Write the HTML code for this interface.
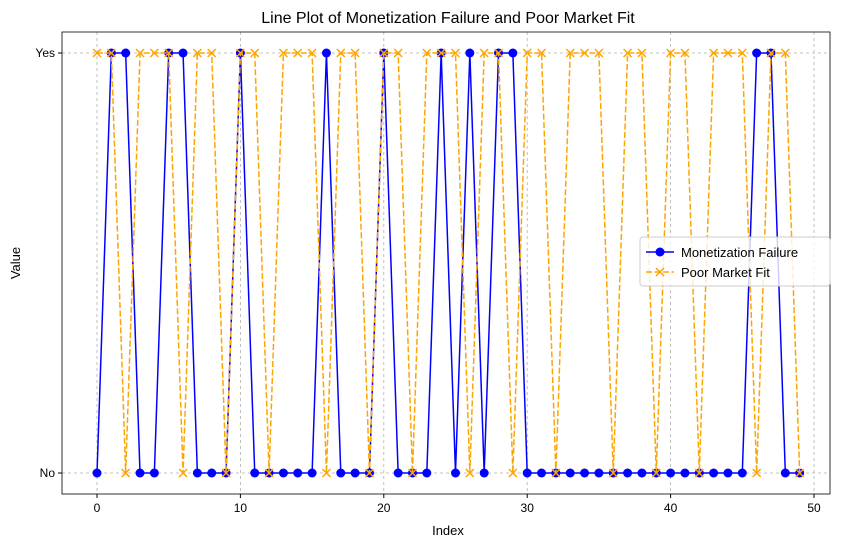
<!DOCTYPE html>
<html><head><meta charset="utf-8"><style>body{margin:0;background:#fff}svg{display:block}text{font-family:"Liberation Sans","DejaVu Sans",sans-serif;fill:#000}</style></head>
<body>
<svg id="c" width="846" height="547" xmlns="http://www.w3.org/2000/svg">
<text x="448" y="23" font-size="16" text-anchor="middle">Line Plot of Monetization Failure and Poor Market Fit</text>
<text x="448" y="535" font-size="13" text-anchor="middle">Index</text>
<text x="20" y="263" font-size="13" text-anchor="middle" transform="rotate(-90 20 263)">Value</text>
<g id="grid"></g><g id="series"></g><g id="axes"></g>
</svg>
<script>
const categories = Array.from({length:50},(_, i)=>i);
const yLabels = ["No","Yes"];
const xTicks = [0,10,20,30,40,50];
const monetizationFailure = [0,1,1,0,0,1,1,0,0,0,1,0,0,0,0,0,1,0,0,0,1,0,0,0,1,0,1,0,1,1,0,0,0,0,0,0,0,0,0,0,0,0,0,0,0,0,1,1,0,0];
const poorMarketFit = [1,1,0,1,1,1,0,1,1,0,1,1,0,1,1,1,0,1,1,0,1,1,0,1,1,1,0,1,1,0,1,1,0,1,1,1,0,1,1,0,1,1,0,1,1,1,0,1,1,0];
const NS="http://www.w3.org/2000/svg";
const L=62,R=830,T=32,B=494;
const x=v=>97+v*(814-97)/50;
const y=v=>473-v*(473-53);
function mk(tag,attrs,parent){const e=document.createElementNS(NS,tag);for(const k in attrs)e.setAttribute(k,attrs[k]);parent.appendChild(e);return e;}
const grid=document.getElementById('grid'),axes=document.getElementById('axes'),ser=document.getElementById('series');
xTicks.forEach(t=>{
  const g=mk('line',{x1:x(t),x2:x(t),y1:T,y2:B,stroke:'#b0b0b0','stroke-width':0.8,'stroke-dasharray':'3,3'},grid);
  
  
  mk('line',{x1:x(t),x2:x(t),y1:B,y2:B+4,stroke:'#000'},axes);
  const tx=mk('text',{x:x(t),y:B+18,'font-size':12,'text-anchor':'middle'},axes);tx.textContent=t;
  
  
});
yLabels.forEach((lab,i)=>{
  const g=mk('line',{x1:L,x2:R,y1:y(i),y2:y(i),stroke:'#b0b0b0','stroke-width':0.8,'stroke-dasharray':'3,3'},grid);
  
  
  mk('line',{x1:L-4,x2:L,y1:y(i),y2:y(i),stroke:'#000'},axes);
  const tx=mk('text',{x:L-7,y:y(i)+4,'font-size':12,'text-anchor':'end'},axes);tx.textContent=lab;
  
  
});
const fr=mk('rect',{x:L,y:T,width:R-L,height:B-T,fill:'none',stroke:'#000','stroke-width':0.8},axes);


function cross(cx,cy,p,c){const d=4;mk('path',{d:`M${cx-d},${cy-d}L${cx+d},${cy+d}M${cx-d},${cy+d}L${cx+d},${cy-d}`,stroke:c,'stroke-width':1.5,fill:'none'},p);}
const g1=mk('g',{},ser);


mk('polyline',{points:categories.map(i=>x(i)+','+y(monetizationFailure[i])).join(' '),fill:'none',stroke:'blue','stroke-width':1.5},g1);
categories.forEach(i=>{const c=mk('circle',{cx:x(i),cy:y(monetizationFailure[i]),r:4.5,fill:'blue'},g1);
  
  });
const g2=mk('g',{},ser);


mk('polyline',{points:categories.map(i=>x(i)+','+y(poorMarketFit[i])).join(' '),fill:'none',stroke:'orange','stroke-width':1.5,'stroke-dasharray':'6,2.5'},g2);
categories.forEach(i=>cross(x(i),y(poorMarketFit[i]),g2,'orange'));
// legend
const lg=mk('g',{},axes);


mk('rect',{x:640,y:237,width:190,height:49,rx:3,fill:'#fff','fill-opacity':0.8,stroke:'#ccc'},lg);
mk('line',{x1:646,x2:674,y1:252,y2:252,stroke:'blue','stroke-width':1.5},lg);
mk('circle',{cx:660,cy:252,r:4.5,fill:'blue'},lg);
const t1=mk('text',{x:681,y:257,'font-size':13},lg);t1.textContent='Monetization Failure';


mk('line',{x1:646,x2:674,y1:272,y2:272,stroke:'orange','stroke-width':1.5,'stroke-dasharray':'6,2.5'},lg);
cross(660,272,lg,'orange');
const t2=mk('text',{x:681,y:277,'font-size':13},lg);t2.textContent='Poor Market Fit';


</script>
</body></html>
